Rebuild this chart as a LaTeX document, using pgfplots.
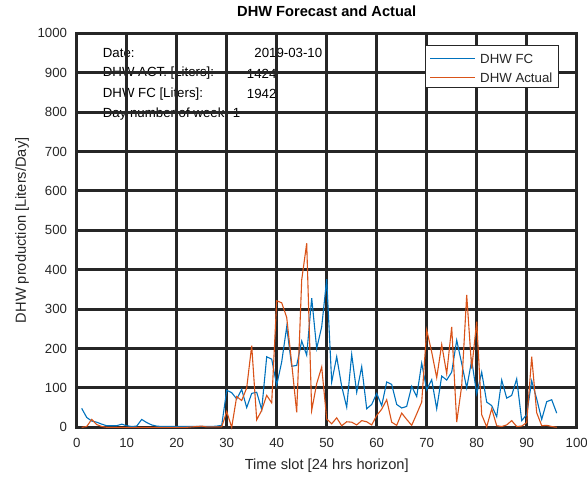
\documentclass[border=0pt]{standalone}
\usepackage{fontspec}
\setmainfont{Liberation Sans}
\usepackage{pgfplots}
\pgfplotsset{compat=1.18}
\usepackage{pgfplotstable}
\definecolor{mblue}{RGB}{0,114,189}
\definecolor{morange}{RGB}{217,83,25}
\definecolor{gridc}{RGB}{38,38,38}

\pgfplotstableread{
x fc act
1 48 0
2 25 2
3 16 20
4 13 7
5 8 2
6 4 0
7 4 0
8 4 0
9 8 0
10 4 0
11 2 0
12 3 0
13 20 0
14 12 0
15 6 0
16 3 0
17 2 0
18 2 0
19 2 0
20 2 0
21 2 0
22 2 0
23 2 1
24 2 2
25 2 3
26 2 1
27 2 1
28 3 1
29 5 1
30 94 40
31 88 0
32 72 78
33 96 68
34 50 100
35 86 207
36 89 19
37 45 43
38 179 81
39 173 62
40 107 321
41 166 316
42 255 279
43 155 162
44 157 38
45 219 374
46 183 467
47 328 43
48 200 111
49 255 153
50 376 21
51 115 9
52 179 24
53 104 4
54 51 14
55 185 13
56 89 6
57 154 17
58 47 14
59 58 6
60 86 30
61 55 46
62 115 70
63 109 13
64 58 5
65 49 36
66 53 20
67 104 5
68 78 34
69 163 64
70 95 247
71 121 191
72 47 126
73 130 210
74 120 136
75 140 255
76 221 13
77 162 105
78 100 336
79 170 149
80 85 268
81 140 32
82 64 1
83 55 47
84 27 4
85 120 2
86 74 6
87 81 17
88 123 2
89 17 3
90 32 12
91 118 179
92 72 37
93 20 4
94 65 5
95 70 2
96 36 0
}\datatable

\begin{document}
\begin{tikzpicture}
% annotation text (drawn first so that the grid lies over it, as in the reference)
\begin{scope}[every node/.style={anchor=west, inner sep=0pt, font=\fontsize{13.3}{16}\selectfont}]
\node at (26bp,374.3bp) {Date:};
\node at (177.5bp,374.3bp) {2019-03-10};
\node at (26bp,353.8bp) {DHW ACT. [Liters]:};
\node at (170bp,353.8bp) {1424};
\node at (26bp,333.3bp) {DHW FC [Liters]:};
\node at (170bp,333.3bp) {1942};
\node at (26bp,312.8bp) {Day number of week: 1};
\end{scope}
\begin{axis}[
  name=ax,
  at={(0,0)}, anchor=south west,
  scale only axis,
  width=500bp, height=394bp,
  xmin=0, xmax=100, ymin=0, ymax=1000,
  xtick={0,10,...,100}, ytick={0,100,...,1000},
  grid=major,
  major grid style={line width=3bp, color=gridc},
  axis line style={line width=3bp, color=gridc},
  major tick length=0pt,
  /pgf/number format/assume math mode=true,
  /pgf/number format/1000 sep={},
  tick label style={font=\fontsize{13.3}{16}\selectfont, text=gridc},
  yticklabel style={inner xsep=0pt, xshift=-9.4bp},
  xticklabel style={inner ysep=0pt, yshift=-10.5bp},
  xlabel={Time slot [24 hrs horizon]},
  ylabel={DHW production [Liters/Day]},
  title={\textbf{DHW Forecast and Actual}},
  xlabel style={at={(axis description cs:0.5,-0.0982)}, anchor=center, font=\fontsize{14.7}{17}\selectfont, text=gridc},
  ylabel style={at={(axis description cs:-0.1094,0.5)}, anchor=center, font=\fontsize{14.7}{17}\selectfont, text=gridc},
  title style={at={(axis description cs:0.5,1.0414)}, anchor=center, font=\fontsize{14.7}{17}\selectfont},
  clip=false,
]
\addplot[color=mblue, line width=1.1bp] table[x=x, y=fc] {\datatable};
\addplot[color=morange, line width=1.1bp] table[x=x, y=act] {\datatable};
% legend: DHW FC (blue), DHW Actual (orange)
\draw[fill=white, draw=gridc, line width=0.6bp]
  (axis description cs:0.6966,0.9703) rectangle (axis description cs:0.9632,0.8637);
\draw[mblue, line width=1.1bp] (axis description cs:0.7066,0.9360) -- (axis description cs:0.7966,0.9360);
\draw[morange, line width=1.1bp] (axis description cs:0.7066,0.8878) -- (axis description cs:0.7966,0.8878);
\node[anchor=west, inner sep=0pt, text=gridc, font=\fontsize{13.3}{16}\selectfont]
  at (axis description cs:0.8066,0.9340) {DHW FC};
\node[anchor=west, inner sep=0pt, text=gridc, font=\fontsize{13.3}{16}\selectfont]
  at (axis description cs:0.8066,0.8866) {DHW Actual};
\end{axis}
\pgfresetboundingbox
\useasboundingbox (-76.7bp,-51.7bp) rectangle (510.3bp,427.3bp);
\end{tikzpicture}
\end{document}
